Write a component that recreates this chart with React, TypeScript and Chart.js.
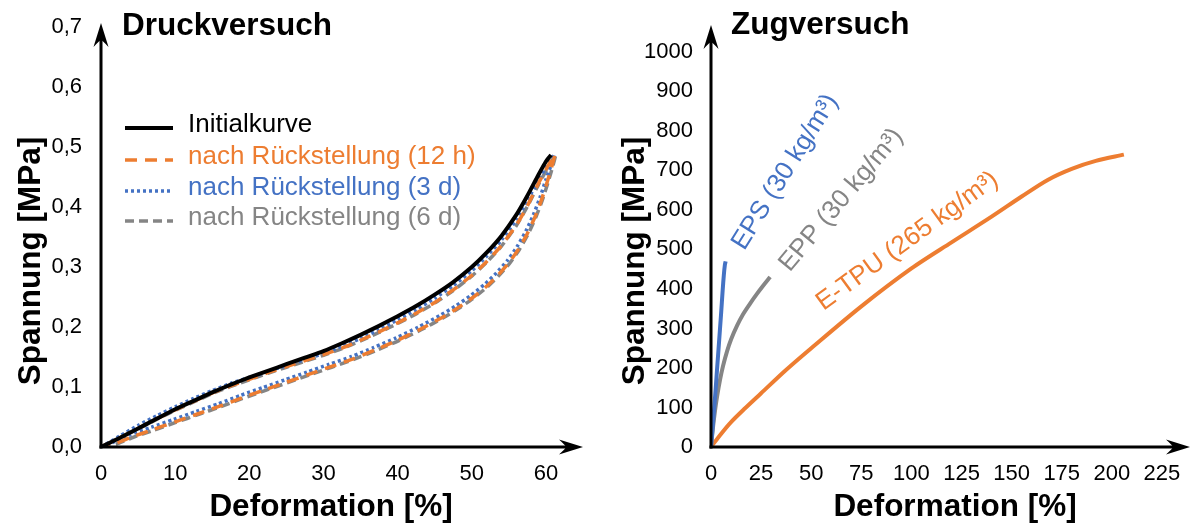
import React, { useEffect, useRef } from "react";
import { Chart, registerables } from "chart.js";

Chart.register(...registerables);

const FONT = "'Liberation Sans', Arial, Helvetica, sans-serif";

// ---------------- Druckversuch (compression) ----------------
const druckInitialX = [0, 2.5, 5, 7.5, 10, 12.5, 15, 17.5, 20, 22.5, 25, 27.5, 30, 32.5, 35, 37.5, 40, 42.5, 45, 47.5, 50, 52, 54, 56, 57.5, 59, 60, 60.7];
const druckInitialY = [0, 0.015, 0.031, 0.047, 0.063, 0.077, 0.091, 0.104, 0.116, 0.127, 0.138, 0.149, 0.160, 0.173, 0.187, 0.202, 0.218, 0.235, 0.254, 0.275, 0.300, 0.324, 0.352, 0.387, 0.419, 0.454, 0.476, 0.487];

const druck12hX = [0, 2.5, 5, 7.5, 10, 12.5, 15, 17.5, 20, 22.5, 25, 27.5, 30, 32.5, 35, 37.5, 40, 42.5, 45, 47.5, 50, 52, 54, 56, 57.5, 59, 60.3, 61.2, 60.8, 60.2, 59.4, 58.5, 57.5, 56.3, 55, 53.5, 52, 50, 48, 46, 43, 40, 37, 34, 31, 28, 25, 22, 19, 16, 13, 10, 7, 4, 2, 1];
const druck12hY = [0, 0.015, 0.031, 0.047, 0.062, 0.076, 0.090, 0.102, 0.113, 0.124, 0.134, 0.144, 0.154, 0.165, 0.178, 0.192, 0.207, 0.223, 0.241, 0.262, 0.286, 0.309, 0.336, 0.370, 0.402, 0.440, 0.469, 0.488, 0.468, 0.443, 0.412, 0.383, 0.356, 0.330, 0.307, 0.286, 0.268, 0.248, 0.231, 0.216, 0.196, 0.178, 0.162, 0.147, 0.134, 0.121, 0.108, 0.095, 0.082, 0.068, 0.055, 0.042, 0.029, 0.016, 0.006, 0.001];

const druck3dX = [0, 2.5, 5, 7.5, 10, 12.5, 15, 17.5, 20, 22.5, 25, 27.5, 30, 32.5, 35, 37.5, 40, 42.5, 45, 47.5, 50, 52, 54, 56, 57.5, 59.2, 60.5, 61.2, 60.7, 60.0, 59.2, 58.3, 57.3, 56.1, 54.8, 53.3, 51.8, 49.8, 47.8, 45.8, 42.8, 39.8, 36.8, 33.8, 30.8, 27.8, 24.8, 21.8, 18.8, 15.8, 12.8, 9.8, 6.8, 3.8, 1.8, 0.6];
const druck3dY = [0, 0.018, 0.036, 0.052, 0.067, 0.081, 0.094, 0.106, 0.116, 0.126, 0.136, 0.146, 0.156, 0.168, 0.181, 0.196, 0.212, 0.229, 0.248, 0.269, 0.294, 0.318, 0.345, 0.379, 0.411, 0.450, 0.475, 0.488, 0.470, 0.446, 0.416, 0.387, 0.360, 0.334, 0.311, 0.290, 0.272, 0.252, 0.235, 0.220, 0.200, 0.182, 0.166, 0.151, 0.138, 0.125, 0.112, 0.099, 0.086, 0.072, 0.059, 0.046, 0.033, 0.020, 0.009, 0.002];

const druck6dX = [0, 2.5, 5, 7.5, 10, 12.5, 15, 17.5, 20, 22.5, 25, 27.5, 30, 32.5, 35, 37.5, 40, 42.5, 45, 47.5, 50, 52, 54, 56, 57.5, 59.1, 60.4, 61.3, 60.9, 60.3, 59.5, 58.6, 57.6, 56.4, 55.1, 53.6, 52.1, 50.1, 48.1, 46.1, 43.1, 40.1, 37.1, 34.1, 31.1, 28.1, 25.1, 22.1, 19.1, 16.1, 13.1, 10.1, 7.1, 4.1, 2.1, 1.1];
const druck6dY = [0, 0.015, 0.030, 0.046, 0.061, 0.075, 0.089, 0.101, 0.112, 0.123, 0.133, 0.143, 0.153, 0.164, 0.177, 0.191, 0.206, 0.222, 0.240, 0.261, 0.285, 0.308, 0.335, 0.369, 0.401, 0.440, 0.469, 0.487, 0.467, 0.442, 0.411, 0.382, 0.355, 0.329, 0.306, 0.285, 0.267, 0.247, 0.230, 0.215, 0.195, 0.177, 0.161, 0.146, 0.133, 0.120, 0.107, 0.094, 0.081, 0.067, 0.054, 0.041, 0.028, 0.015, 0.005, 0.001];

const druckLegend = ["Initialkurve", "nach Rückstellung (12 h)", "nach Rückstellung (3 d)", "nach Rückstellung (6 d)"];
const druckXTicks = [0, 10, 20, 30, 40, 50, 60];
const druckYTicks = [0, 0.1, 0.2, 0.3, 0.4, 0.5, 0.6, 0.7];
const druckYTickLabels = ["0,0", "0,1", "0,2", "0,3", "0,4", "0,5", "0,6", "0,7"];

// ---------------- Zugversuch (tension) ----------------
const zugEpsX = [0, 1, 2, 3, 4, 5, 5.8, 6.4, 6.9, 7.3];
const zugEpsY = [0, 60, 125, 195, 265, 335, 395, 435, 460, 470];
const zugEppX = [0, 1, 2, 3, 4.5, 6, 8, 10, 13, 16, 19.5, 23, 26, 29.5];
const zugEppY = [0, 50, 92, 127, 170, 205, 242, 272, 307, 336, 363, 388, 408, 430];
const zugTpuX = [0, 5, 10, 17, 25, 37, 50, 75, 100, 120, 140, 155, 168, 180, 192, 206];
const zugTpuY = [0, 33, 63, 98, 136, 193, 250, 356, 452, 518, 583, 634, 676, 704, 724, 740];

const zugLabels = ["EPS (30 kg/m³)", "EPP (30 kg/m³)", "E-TPU (265 kg/m³)"];
const zugLabelX = [37, 65, 98];
const zugLabelY = [696, 625, 521];
const zugLabelAngle = [58, 50, 36];
const zugXTicks = [0, 25, 50, 75, 100, 125, 150, 175, 200, 225];
const zugYTicks = [0, 100, 200, 300, 400, 500, 600, 700, 800, 900, 1000];

const BLACK = "#000000";
const ORANGE = "#ED7D31";
const BLUE = "#4472C4";
const GRAY = "#858585";

const pts = (xs: number[], ys: number[]) => xs.map((x, i) => ({ x, y: ys[i] }));

function drawArrow(ctx: CanvasRenderingContext2D, tx: number, ty: number, dir: "right" | "up") {
  const L = 24, W = 7.5, N = 17;
  ctx.beginPath();
  if (dir === "right") {
    ctx.moveTo(tx, ty);
    ctx.lineTo(tx - L, ty - W);
    ctx.quadraticCurveTo(tx - N, ty - 1, tx - N, ty);
    ctx.quadraticCurveTo(tx - N, ty + 1, tx - L, ty + W);
  } else {
    ctx.moveTo(tx, ty);
    ctx.lineTo(tx - W, ty + L);
    ctx.quadraticCurveTo(tx - 1, ty + N, tx, ty + N);
    ctx.quadraticCurveTo(tx + 1, ty + N, tx + W, ty + L);
  }
  ctx.closePath();
  ctx.fill();
}

function axesPlugin(extra: (chart: any) => void) {
  return {
    id: "axesArrows",
    afterDatasetsDraw(chart: any) {
      const { ctx, chartArea: a } = chart;
      ctx.save();
      ctx.strokeStyle = "#000";
      ctx.fillStyle = "#000";
      ctx.lineWidth = 3;
      ctx.beginPath();
      ctx.moveTo(a.left - 1.5, a.bottom);
      ctx.lineTo(a.right - 16, a.bottom);
      ctx.stroke();
      ctx.beginPath();
      ctx.moveTo(a.left, a.bottom + 1.5);
      ctx.lineTo(a.left, a.top + 16);
      ctx.stroke();
      drawArrow(ctx, a.right, a.bottom, "right");
      drawArrow(ctx, a.left, a.top, "up");
      ctx.restore();
      ctx.save();
      extra(chart);
      ctx.restore();
    },
  };
}

function scaleOpts(min: number, max: number, ticks: number[], labels: string[], isX: boolean, size: number, pad: number) {
  return {
    type: "linear",
    min,
    max,
    afterBuildTicks: (s: any) => {
      s.ticks = ticks.map((v) => ({ value: v }));
    },
    afterFit: (s: any) => {
      if (isX) s.height = size;
      else s.width = size;
      s.paddingTop = 0;
      s.paddingBottom = 0;
      s.paddingLeft = 0;
      s.paddingRight = 0;
    },
    grid: { display: false, drawTicks: false },
    border: { display: false },
    ticks: {
      font: { family: FONT, size: 22 },
      color: "#000",
      padding: pad,
      autoSkip: false,
      maxRotation: 0,
      callback: (_v: any, i: number) => labels[i],
    },
  };
}

function drawText(ctx: CanvasRenderingContext2D, text: string, x: number, y: number, font: string, color: string, angleDeg: number, align: CanvasTextAlign, baseline: CanvasTextBaseline) {
  ctx.save();
  ctx.translate(x, y);
  ctx.rotate((-angleDeg * Math.PI) / 180);
  ctx.font = font;
  ctx.fillStyle = color;
  ctx.textAlign = align;
  ctx.textBaseline = baseline;
  ctx.fillText(text, 0, 0);
  ctx.restore();
}

const TITLE_FONT = `bold 31.5px ${FONT}`;

function makeDruck(canvas: HTMLCanvasElement) {
  const styles = [
    { color: BLACK, dash: [] as number[], width: 4 },
    { color: ORANGE, dash: [12, 8], width: 3.5 },
    { color: BLUE, dash: [3, 3], width: 3.5 },
    { color: GRAY, dash: [9, 5], width: 3.5 },
  ];
  const series = [
    pts(druckInitialX, druckInitialY),
    pts(druck12hX, druck12hY),
    pts(druck3dX, druck3dY),
    pts(druck6dX, druck6dY),
  ];
  const extra = (chart: any) => {
    const { ctx, chartArea: a } = chart;
    drawText(ctx, "Druckversuch", a.left + 21, 35, TITLE_FONT, "#000", 0, "left", "alphabetic");
    drawText(ctx, "Spannung [MPa]", 31, 261, TITLE_FONT, "#000", 90, "center", "middle");
    drawText(ctx, "Deformation [%]", 331, 507, TITLE_FONT, "#000", 0, "center", "middle");
    const rows = [125, 157, 188, 218];
    druckLegend.forEach((label, i) => {
      const st = styles[i];
      ctx.save();
      ctx.strokeStyle = st.color;
      ctx.lineWidth = st.width;
      ctx.setLineDash(st.dash);
      ctx.beginPath();
      ctx.moveTo(a.left + 24, rows[i] + 3);
      ctx.lineTo(a.left + 72, rows[i] + 3);
      ctx.stroke();
      ctx.restore();
      drawText(ctx, label, a.left + 87, rows[i], `26px ${FONT}`, i === 0 ? "#000" : st.color, 0, "left", "middle");
    });
  };
  return new Chart(canvas, {
    type: "line",
    data: {
      datasets: series.map((d, i) => ({
        label: druckLegend[i],
        data: d,
        borderColor: styles[i].color,
        borderWidth: styles[i].width,
        borderDash: styles[i].dash,
        borderCapStyle: "butt",
        pointRadius: 0,
        fill: false,
        tension: 0.2,
      })),
    },
    options: {
      animation: false,
      responsive: false,
      layout: { padding: { left: 0, right: 17, top: 23, bottom: 0 } },
      plugins: { legend: { display: false }, tooltip: { enabled: false } },
      scales: {
        x: scaleOpts(0, 65, druckXTicks, druckXTicks.map(String), true, 77, 14),
        y: scaleOpts(0, 0.707, druckYTicks, druckYTickLabels, false, 101, 19),
      },
    },
    plugins: [axesPlugin(extra)],
  } as any);
}

function makeZug(canvas: HTMLCanvasElement) {
  const colors = [BLUE, GRAY, ORANGE];
  const series = [pts(zugEpsX, zugEpsY), pts(zugEppX, zugEppY), pts(zugTpuX, zugTpuY)];
  const extra = (chart: any) => {
    const { ctx, chartArea: a, scales } = chart;
    drawText(ctx, "Zugversuch", a.left + 20, 34, TITLE_FONT, "#000", 0, "left", "alphabetic");
    drawText(ctx, "Spannung [MPa]", 35, 261, TITLE_FONT, "#000", 90, "center", "middle");
    drawText(ctx, "Deformation [%]", 355, 507, TITLE_FONT, "#000", 0, "center", "middle");
    zugLabels.forEach((label, i) => {
      const px = scales.x.getPixelForValue(zugLabelX[i]);
      const py = scales.y.getPixelForValue(zugLabelY[i]);
      drawText(ctx, label, px, py, `26px ${FONT}`, colors[i], zugLabelAngle[i], "center", "middle");
    });
  };
  return new Chart(canvas, {
    type: "line",
    data: {
      datasets: series.map((d, i) => ({
        label: zugLabels[i],
        data: d,
        borderColor: colors[i],
        borderWidth: 4,
        pointRadius: 0,
        fill: false,
        tension: 0.3,
      })),
    },
    options: {
      animation: false,
      responsive: false,
      layout: { padding: { left: 0, right: 2, top: 25, bottom: 0 } },
      plugins: { legend: { display: false }, tooltip: { enabled: false } },
      scales: {
        x: scaleOpts(0, 239, zugXTicks, zugXTicks.map(String), true, 77, 14),
        y: scaleOpts(0, 1068, zugYTicks, zugYTicks.map(String), false, 111, 18),
      },
    },
    plugins: [axesPlugin(extra)],
  } as any);
}

export default function App() {
  const leftRef = useRef<HTMLCanvasElement>(null);
  const rightRef = useRef<HTMLCanvasElement>(null);
  useEffect(() => {
    const c1 = makeDruck(leftRef.current!);
    const c2 = makeZug(rightRef.current!);
    return () => {
      c1.destroy();
      c2.destroy();
    };
  }, []);
  return (
    <div style={{ position: "absolute", left: 0, top: 0, width: 1192, height: 524, background: "#fff" }}>
      <canvas ref={leftRef} width={600} height={524} style={{ position: "absolute", left: 0, top: 0 }} />
      <canvas ref={rightRef} width={592} height={524} style={{ position: "absolute", left: 600, top: 0 }} />
    </div>
  );
}
